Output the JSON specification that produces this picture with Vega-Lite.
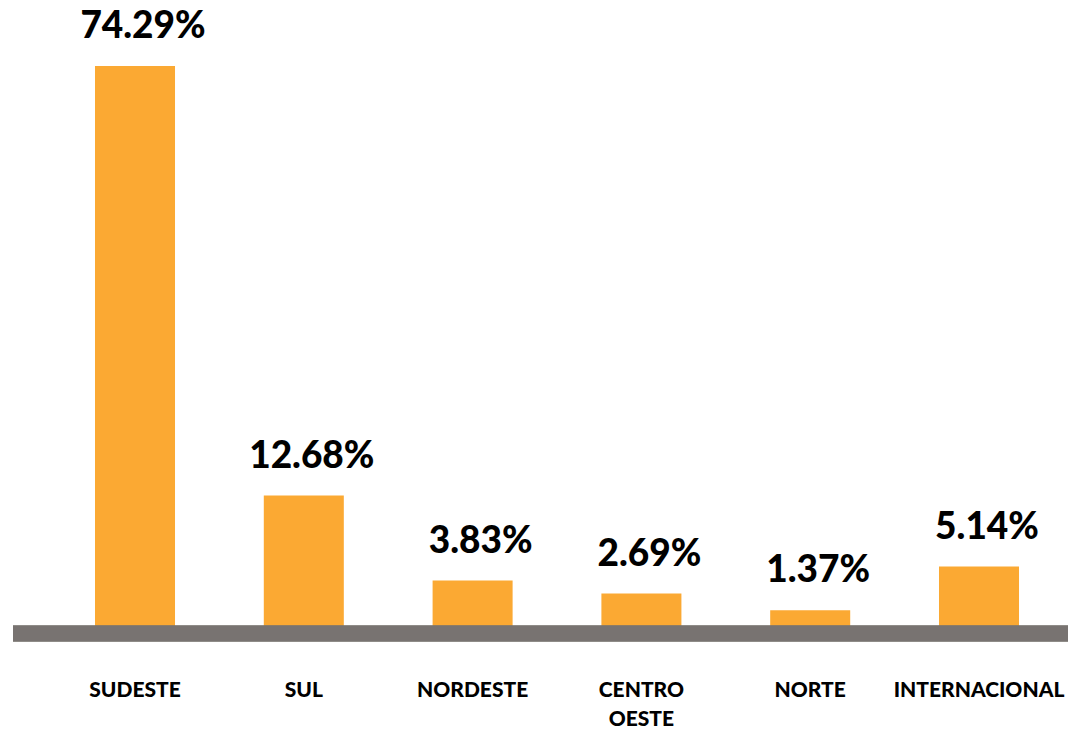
{
  "$schema": "https://vega.github.io/schema/vega-lite/v6.json",
  "width": 1055,
  "height": 567.5,
  "autosize": {"type": "none"},
  "padding": {"left": 13, "top": 66, "right": 0, "bottom": 98.5},
  "background": "white",
  "config": {"view": {"stroke": null}, "font": "Lato"},
  "data": {
    "values": [
      {"region": "SUDESTE", "pct": 74.29, "label": "74.29%"},
      {"region": "SUL", "pct": 12.68, "label": "12.68%"},
      {"region": "NORDESTE", "pct": 3.83, "label": "3.83%"},
      {"region": "CENTRO OESTE", "pct": 2.69, "label": "2.69%"},
      {"region": "NORTE", "pct": 1.37, "label": "1.37%"},
      {"region": "INTERNACIONAL", "pct": 5.14, "label": "5.14%"}
    ]
  },
  "layer": [
    {
      "mark": {"type": "bar", "color": "#FBA933"},
      "encoding": {
        "x": {
          "field": "region", "type": "nominal", "sort": null,
          "scale": {"paddingInner": 0.526, "paddingOuter": 0.388, "align": 0.626},
          "axis": {
            "title": null, "domain": false, "ticks": false, "labelAngle": 0,
            "labelFont": "Lato", "labelFontWeight": 900, "labelFontSize": 21,
            "labelColor": "black", "labelPadding": 46, "labelLineHeight": 29,
            "labelExpr": "split(datum.label, ' ')"
          }
        },
        "y": {
          "field": "pct", "type": "quantitative",
          "scale": {"type": "pow", "exponent": 0.8, "domain": [0, 74.29], "nice": false},
          "axis": null
        }
      }
    },
    {
      "mark": {"type": "text", "fontSize": 37, "fontWeight": 900, "font": "Lato", "baseline": "alphabetic", "dy": -28, "dx": 8, "color": "black"},
      "encoding": {
        "x": {"field": "region", "type": "nominal", "sort": null},
        "y": {"field": "pct", "type": "quantitative"},
        "text": {"field": "label"}
      }
    },
    {
      "mark": {"type": "rule", "color": "#787371", "strokeWidth": 15.5},
      "encoding": {"y": {"datum": 0}}
    }
  ]
}
